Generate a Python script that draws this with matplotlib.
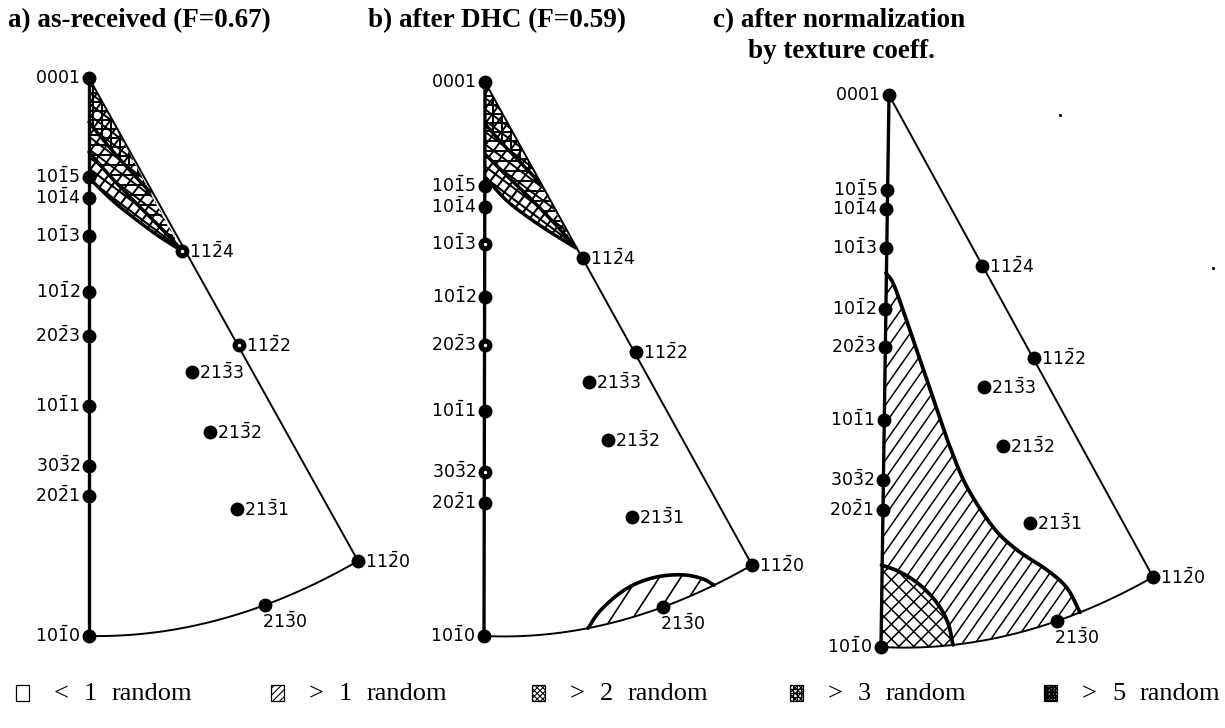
import numpy as np
import matplotlib
matplotlib.use('Agg')
import matplotlib.pyplot as plt
from matplotlib.patches import Polygon, Rectangle
from matplotlib.collections import LineCollection

plt.rcParams['mathtext.fontset'] = 'dejavusans'

# ---------------- data ----------------
pole_tex = [r'$0001$', r'$10\bar{1}5$', r'$10\bar{1}4$', r'$10\bar{1}3$', r'$10\bar{1}2$',
            r'$20\bar{2}3$', r'$10\bar{1}1$', r'$30\bar{3}2$', r'$20\bar{2}1$', r'$10\bar{1}0$',
            r'$11\bar{2}4$', r'$11\bar{2}2$', r'$21\bar{3}3$', r'$21\bar{3}2$', r'$21\bar{3}1$',
            r'$11\bar{2}0$', r'$21\bar{3}0$']
label_side = ['L'] * 10 + ['R'] * 6 + ['B']
I_TOP, I_BOT, I_COR, I_MID = 0, 9, 15, 16

# pole positions in the three panels (pixel coordinates of the figure)
a_x = [89, 89, 89, 89, 89, 89, 89, 89, 89, 89, 182, 239, 192, 210, 237, 358, 265]
a_y = [78, 177, 198, 236, 292, 336, 406, 466, 496, 636, 251, 345, 372, 432, 509, 561, 605]
b_x = [485, 485, 485, 485, 485, 485, 485, 485, 485, 484, 583, 636, 589, 608, 632, 752, 663]
b_y = [82, 186, 207, 244, 297, 345, 411, 472, 503, 636, 258, 352, 382, 440, 517, 565, 607]
c_x = [889, 887, 886, 886, 885, 885, 884, 883, 883, 881, 982, 1034, 984, 1003, 1030, 1153, 1057]
c_y = [95, 190, 209, 248, 309, 347, 420, 480, 510, 647, 266, 358, 387, 446, 523, 577, 621]
a_rings = [10, 11]
b_rings = [3, 5, 7]
c_rings = []

# contour lines (density levels)
a_lvl2 = [(89, 178), (113, 201), (138, 221), (160, 237), (182, 251)]
a_lvl3 = [(89, 152), (110, 176), (135, 202), (158, 225), (179, 247)]
a_lvl5 = [(89, 122), (105, 142), (125, 165), (150, 192)]
b_lvl2 = [(486, 178), (505, 199), (525, 215), (550, 232), (576, 248)]
b_lvl3 = [(486, 155), (505, 174), (530, 198), (555, 224), (573, 244)]
b_lvl5 = [(486, 125), (500, 141), (520, 162), (540, 183)]
b_lens = [(588, None), (600, 611), (620, 593), (640, 582), (662, 576), (685, 575), (703, 579), (714, None)]
c_lvl1 = [(886, 273), (893, 283), (903, 310), (920, 360), (937, 410), (950, 447), (967, 487),
          (993, 527), (1017, 550), (1047, 570), (1067, 588), (1080, None)]
c_lvl2 = [(881.5, 565), (900, 572), (920, 585), (937, 603), (948, 623), (953, None)]

titles = ['a) as-received (F=0.67)', 'b) after DHC (F=0.59)', 'c) after normalization', 'by texture coeff.']
title_x = [8, 368, 713, 748]
title_y = [21, 21, 21, 52]

legend_sign = ['<', '>', '>', '>', '>']
legend_num = ['1', '1', '2', '3', '5']
legend_word = ['random'] * 5
legend_x = [16, 271, 532, 790, 1044]

stray_x = [1060, 1213]
stray_y = [115, 268]

# hatch styles: (angles in degrees, spacing px, line width)
H_GT1 = ([55], 10.5, 1.1)
H_GT2 = ([45, -45], 10.5, 1.1)
H_LENS = ([57], 18, 1.2)
H_W2 = ([-37, 53], 9, 1.5)
H_W3 = ([-37, 53, 0], 10, 1.4)
H_W5 = ([-37, 53, 0, 90], 9, 1.4)
legend_hatch = [([], 4, 0.8), ([45], 5, 0.8), ([45, -45], 4, 0.8),
                ([45, -45, 0, 90], 4, 0.8), ([45, -45, 0, 90], 2.6, 0.9)]

# ---------------- helpers ----------------
def smooth(pts, n=14):
    pts = np.asarray(pts, float)
    if len(pts) < 3:
        return pts
    P = np.vstack([2 * pts[0] - pts[1], pts, 2 * pts[-1] - pts[-2]])
    out = []
    t = np.linspace(0, 1, n, endpoint=False)[:, None]
    for i in range(1, len(P) - 2):
        p0, p1, p2, p3 = P[i - 1], P[i], P[i + 1], P[i + 2]
        out.append(0.5 * ((2 * p1) + (-p0 + p2) * t + (2 * p0 - 5 * p1 + 4 * p2 - p3) * t ** 2
                          + (-p0 + 3 * p1 - 3 * p2 + p3) * t ** 3))
    out.append(pts[-1:])
    return np.vstack(out)


fig = plt.figure(figsize=(12.25, 7.28), dpi=100)
ax = fig.add_axes([0, 0, 1, 1])
ax.set_xlim(0, 1225)
ax.set_ylim(728, 0)
ax.set_autoscale_on(False)
ax.axis('off')

_z = [1.0]


def next_z():
    _z[0] += 0.01
    return _z[0]


def hatch_patch(patch, style):
    angles, spacing, lw = style
    if not angles:
        return
    xy = patch.get_patch_transform().transform(patch.get_path().vertices)
    c = xy.mean(0)
    L = np.hypot(np.ptp(xy[:, 0]), np.ptp(xy[:, 1])) + 10
    segs = []
    for a in angles:
        t = np.radians(a)
        d = np.array([np.cos(t), -np.sin(t)])
        nrm = np.array([-d[1], d[0]])
        for k in np.arange(-L, L + spacing, spacing):
            p = c + k * nrm
            segs.append([p - L * d, p + L * d])
    lc = LineCollection(segs, colors='black', linewidths=lw, zorder=next_z())
    ax.add_collection(lc, autolim=False)
    lc.set_clip_path(patch)


def arc_fun(px, py):
    coef = np.polyfit([px[I_BOT], px[I_MID], px[I_COR]], [py[I_BOT], py[I_MID], py[I_COR]], 2)
    return lambda x: np.polyval(coef, x)


def fill_region(verts, style, curve, clw=2.4):
    p = Polygon(verts, closed=True, facecolor='white', edgecolor='none', linewidth=0,
                zorder=next_z())
    ax.add_patch(p)
    hatch_patch(p, style)
    ax.plot(curve[:, 0], curve[:, 1], color='black', lw=clw, zorder=3,
            solid_capstyle='round')


def wedge(px, py, lvl, style):
    top = (px[I_TOP], py[I_TOP])
    cur = smooth(lvl)
    verts = np.vstack([[top], cur])
    fill_region(verts, style, cur, clw=2.5)


def draw_panel(px, py, rings):
    top = (px[I_TOP], py[I_TOP]); bot = (px[I_BOT], py[I_BOT]); cor = (px[I_COR], py[I_COR])
    ax.plot([top[0], bot[0]], [top[1], bot[1]], color='black', lw=2.4, zorder=4)
    ax.plot([top[0], cor[0]], [top[1], cor[1]], color='black', lw=1.4, zorder=4)
    f = arc_fun(px, py)
    xs = np.linspace(bot[0], cor[0], 120)
    ax.plot(xs, f(xs), color='black', lw=1.4, zorder=4)
    ax.scatter(px, py, s=100, color='black', zorder=5, linewidths=0)
    if rings:
        ax.scatter([px[i] for i in rings], [py[i] for i in rings], s=6, color='white', zorder=6,
                   linewidths=0)
    for i, (x, y) in enumerate(zip(px, py)):
        side = label_side[i]
        if side == 'L':
            ax.text(x - 9, y, pole_tex[i], ha='right', va='center', fontsize=12.5, zorder=6)
        elif side == 'R':
            ax.text(x + 7, y + 1, pole_tex[i], ha='left', va='center', fontsize=12.5, zorder=6)
        else:
            ax.text(x - 3, y + 17, pole_tex[i], ha='left', va='center', fontsize=12.5, zorder=6)


# panel a regions
wedge(a_x, a_y, a_lvl2, H_W2)
wedge(a_x, a_y, a_lvl3, H_W3)
wedge(a_x, a_y, a_lvl5, H_W5)
# panel b regions
wedge(b_x, b_y, b_lvl2, H_W2)
wedge(b_x, b_y, b_lvl3, H_W3)
wedge(b_x, b_y, b_lvl5, H_W5)

fb = arc_fun(b_x, b_y)
lens = [(x, (fb(x) if y is None else y)) for x, y in b_lens]
cur = smooth(lens)
xs = np.linspace(lens[-1][0], lens[0][0], 40)
verts = np.vstack([cur, np.column_stack([xs, fb(xs)])])
fill_region(verts, H_LENS, cur, clw=2.6)

# panel c regions
fc = arc_fun(c_x, c_y)
for lvl, h in [(c_lvl1, H_GT1), (c_lvl2, H_GT2)]:
    pts = [(x, (fc(x) if y is None else y)) for x, y in lvl]
    cur = smooth(pts)
    xs = np.linspace(pts[-1][0], c_x[I_BOT], 40)
    verts = np.vstack([cur, np.column_stack([xs, fc(xs)]), [[c_x[I_BOT], c_y[I_BOT]]]])
    fill_region(verts, h, cur, clw=2.7)

draw_panel(a_x, a_y, a_rings)
draw_panel(b_x, b_y, b_rings)
draw_panel(c_x, c_y, c_rings)

ax.scatter(stray_x, stray_y, s=5, color='black', linewidths=0)

for t, x, y in zip(titles, title_x, title_y):
    ax.text(x, y, t, ha='left', va='center', fontsize=19.5, fontweight='bold',
            family='Liberation Serif')

for s, n, w, h, x in zip(legend_sign, legend_num, legend_word, legend_hatch, legend_x):
    box = Rectangle((x, 685), 13, 16, facecolor='white', edgecolor='none', linewidth=0,
                    zorder=next_z())
    ax.add_patch(box)
    hatch_patch(box, h)
    ax.add_patch(Rectangle((x, 685), 13, 16, facecolor='none', edgecolor='black',
                           linewidth=0.9, zorder=3))
    ax.text(x + 38, 694, s, ha='left', va='center', fontsize=19, family='Liberation Serif')
    ax.text(x + 68, 694, n, ha='left', va='center', fontsize=19, family='Liberation Serif')
    ax.text(x + 96, 694, w, ha='left', va='center', fontsize=19, family='Liberation Serif')

fig.savefig('out.png', dpi=100)
